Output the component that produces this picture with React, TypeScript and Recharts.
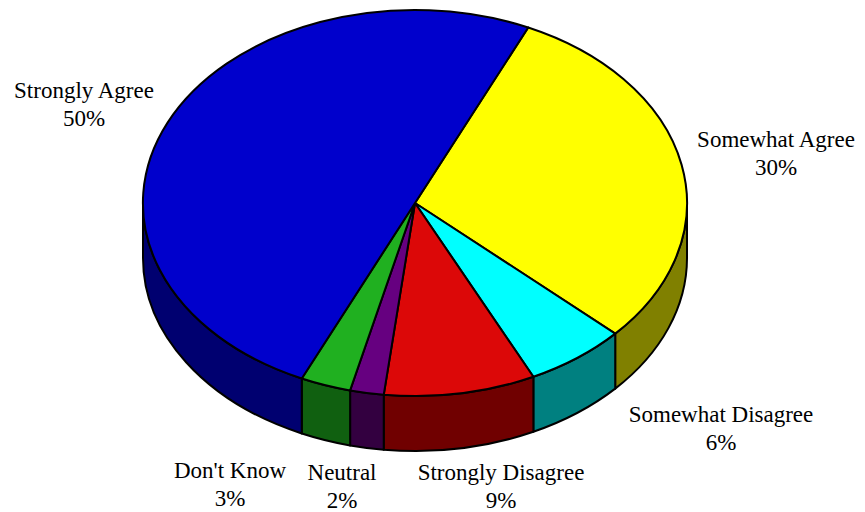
import React from "react"
import { PieChart, Pie, Cell } from "recharts"

// survey answers, clockwise from the top
const categories = ["Somewhat Agree", "Somewhat Disagree", "Strongly Disagree", "Neutral", "Don't Know", "Strongly Agree"]
const shares = [30, 6, 9, 2, 3, 50]

const topColors = ["#FFFF00", "#00FFFF", "#DC0808", "#660080", "#20B020", "#0000CC"]
const sideColors = ["#808000", "#008080", "#700000", "#330040", "#106010", "#000070"]

// label anchors: centre x, first baseline y
const labelAnchors: [number, number][] = [
  [776, 147],
  [721, 422],
  [501, 480],
  [342, 480],
  [230, 478],
  [84, 98],
]

const data = categories.map((name, i) => ({ name, value: shares[i] }))

const CX = 415
const CY = 203
const RX = 272
const TILT = 193 / 272
const DEPTH = 55
const START = 65.4
const RAD = Math.PI / 180
const SERIF = "'Liberation Serif', 'Times New Roman', serif"

function pt(cx: number, cy: number, rx: number, ry: number, a: number, dy = 0) {
  return [cx + rx * Math.cos(a * RAD), cy - ry * Math.sin(a * RAD) + dy]
}

function TopSlice(props: any) {
  const { cx, cy, outerRadius, startAngle, endAngle, fill } = props
  const rx = outerRadius
  const ry = rx * TILT
  const [x0, y0] = pt(cx, cy, rx, ry, startAngle)
  const [x1, y1] = pt(cx, cy, rx, ry, endAngle)
  const large = Math.abs(endAngle - startAngle) > 180 ? 1 : 0
  const sweep = endAngle < startAngle ? 1 : 0
  const d = `M${cx},${cy}L${x0},${y0}A${rx},${ry} 0 ${large} ${sweep} ${x1},${y1}Z`
  return <path d={d} fill={fill} stroke="#000" strokeWidth={2} strokeLinejoin="round" />
}

// the visible front wall of a slice (angles between 180 and 360)
function SideWall(props: any) {
  const { cx, cy, outerRadius, startAngle, endAngle, fill } = props
  const rx = outerRadius
  const ry = rx * TILT
  const lo = Math.min(startAngle, endAngle)
  const hi = Math.max(startAngle, endAngle)
  let d = ""
  for (const k of [-1, 0, 1]) {
    const a = Math.max(lo, -180 + 360 * k)
    const b = Math.min(hi, 360 * k)
    if (b - a < 0.01) continue
    const [ax, ay] = pt(cx, cy, rx, ry, a)
    const [bx, by] = pt(cx, cy, rx, ry, b)
    d +=
      `M${ax},${ay}A${rx},${ry} 0 0 0 ${bx},${by}` +
      `L${bx},${by + DEPTH}A${rx},${ry} 0 0 1 ${ax},${ay + DEPTH}Z`
  }
  if (!d) return <g />
  return <path d={d} fill={fill} stroke="#000" strokeWidth={2} strokeLinejoin="round" />
}

function renderLabel(props: any) {
  const idx = typeof props.index === "number" ? props.index : categories.indexOf(props.name)
  const [x, y] = labelAnchors[idx]
  return (
    <text
      key={`lbl-${idx}`}
      x={x}
      y={y}
      textAnchor="middle"
      fontFamily={SERIF}
      fontSize={23}
      fill="#000"
      style={{ fontFamily: SERIF, fontSize: 23 }}
    >
      <tspan x={x}>{categories[idx]}</tspan>
      <tspan x={x} dy={28}>{shares[idx]}%</tspan>
    </text>
  )
}

export default function App() {
  return (
    <div style={{ position: "absolute", left: 0, top: 0, width: 865, height: 512, background: "#fff" }}>
      <PieChart width={865} height={512} margin={{ top: 0, right: 0, bottom: 0, left: 0 }}>
        <Pie
          data={data}
          dataKey="value"
          nameKey="name"
          cx={CX}
          cy={CY + 0.001}
          outerRadius={RX}
          startAngle={START}
          endAngle={START - 360}
          stroke="none"
          label={false}
          labelLine={false}
          isAnimationActive={false}
          shape={SideWall}
          inactiveShape={SideWall}
          activeShape={SideWall}
        >
          {data.map((d, i) => (
            <Cell key={d.name} fill={sideColors[i]} />
          ))}
        </Pie>
        <Pie
          data={data}
          dataKey="value"
          nameKey="name"
          cx={CX}
          cy={CY}
          outerRadius={RX}
          startAngle={START}
          endAngle={START - 360}
          stroke="none"
          label={renderLabel}
          labelLine={false}
          isAnimationActive={false}
          shape={TopSlice}
          inactiveShape={TopSlice}
          activeShape={TopSlice}
        >
          {data.map((d, i) => (
            <Cell key={d.name} fill={topColors[i]} />
          ))}
        </Pie>
      </PieChart>
    </div>
  )
}
